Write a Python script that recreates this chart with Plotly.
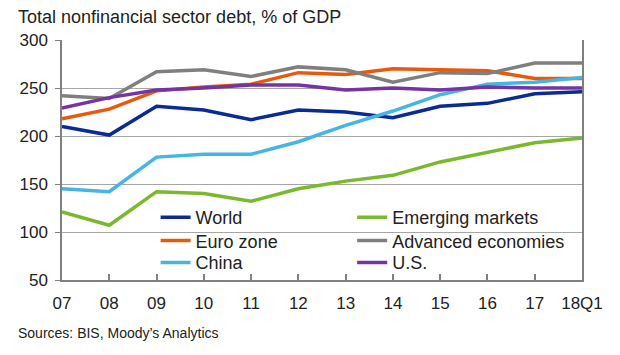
import plotly.graph_objects as go

periods = ["07", "08", "09", "10", "11", "12", "13", "14", "15", "16", "17", "18Q1"]
world = [210, 201, 231, 227, 217, 227, 225, 219, 231, 234, 244, 246]
emerging = [121, 107, 142, 140, 132, 145, 153, 159, 173, 183, 193, 198]
euro = [218, 228, 247, 251, 254, 266, 264, 270, 269, 268, 260, 260]
advanced = [242, 239, 267, 269, 262, 272, 269, 256, 266, 265, 276, 276]
china = [145, 142, 178, 181, 181, 194, 211, 226, 243, 254, 256, 261]
us = [229, 240, 248, 250, 253, 253, 248, 250, 248, 251, 250, 250]
y_ticks = [50, 100, 150, 200, 250, 300]

FONT = "Liberation Sans, Arial, sans-serif"
xpos = list(range(len(periods)))

# (name, values, colour, legend column x, legend row y)
series = [
    ("World", world, "#0a2a96", 0.18, 0.26),
    ("Euro zone", euro, "#e8590c", 0.18, 0.163),
    ("China", china, "#45b5e6", 0.18, 0.072),
    ("Emerging markets", emerging, "#7ab82e", 0.558, 0.26),
    ("Advanced economies", advanced, "#7f7f7f", 0.558, 0.163),
    ("U.S.", us, "#7434a4", 0.558, 0.072),
]

fig = go.Figure()
legends = {}
for i, (name, vals, color, lx, ly) in enumerate(series):
    key = "legend" if i == 0 else f"legend{i + 1}"
    fig.add_trace(go.Scatter(x=xpos, y=vals, mode="lines", name=name, showlegend=True,
                             line=dict(color=color, width=3.5), legend=key))
    legends[key] = dict(font=dict(family=FONT, size=18, color="#222"),
                        bgcolor="rgba(0,0,0,0)", borderwidth=0, tracegroupgap=0,
                        itemwidth=30, xanchor="left", yanchor="middle", yref="paper",
                        x=lx, y=ly)

# white patch behind legend (hides gridline as in reference)
fig.add_shape(type="rect", xref="paper", yref="paper", x0=0.2, x1=0.985,
              y0=0.04, y1=0.31, fillcolor="white", line_width=0, layer="between")

W, H = 612, 347
fig.update_layout(
    width=W, height=H, showlegend=True,
    margin=dict(l=54, r=38, t=32, b=75),
    paper_bgcolor="white", plot_bgcolor="white",
    font=dict(family=FONT, color="#222"),
    title=dict(text="Total nonfinancial sector debt, % of GDP", x=10/W, xanchor="left",
               xref="container", yref="container", y=1 - 2/H, yanchor="top",
               pad=dict(t=0, b=0, l=0, r=0),
               font=dict(family=FONT, size=18, color="#222")),
    xaxis=dict(range=[0, len(periods) - 1], tickmode="array", tickvals=xpos, ticktext=periods,
               showgrid=False, showline=True, linecolor="#808080", linewidth=1.5,
               ticks="inside", ticklen=6, tickcolor="#808080", tickwidth=1.5,
               ticklabelstandoff=7,
               tickfont=dict(family=FONT, size=17, color="#222"), zeroline=False),
    yaxis=dict(range=[50, 300], tickmode="array", tickvals=y_ticks,
               showgrid=True, gridcolor="#a6a6a6", gridwidth=1,
               showline=True, linecolor="#808080", linewidth=1.5, mirror=True,
               ticks="outside", ticklen=5, tickcolor="#808080", tickwidth=1,
               ticklabelstandoff=4,
               tickfont=dict(family=FONT, size=17, color="#222"), zeroline=False),
    annotations=[dict(text="Sources: BIS, Moody\u2019s Analytics", xref="paper", yref="paper",
                      x=(8-54)/520, y=-(325-272)/240, xanchor="left", yanchor="middle",
                      showarrow=False, font=dict(family=FONT, size=14, color="#222"))],
)
fig.update_layout(**legends)

fig.write_html("out.html")
